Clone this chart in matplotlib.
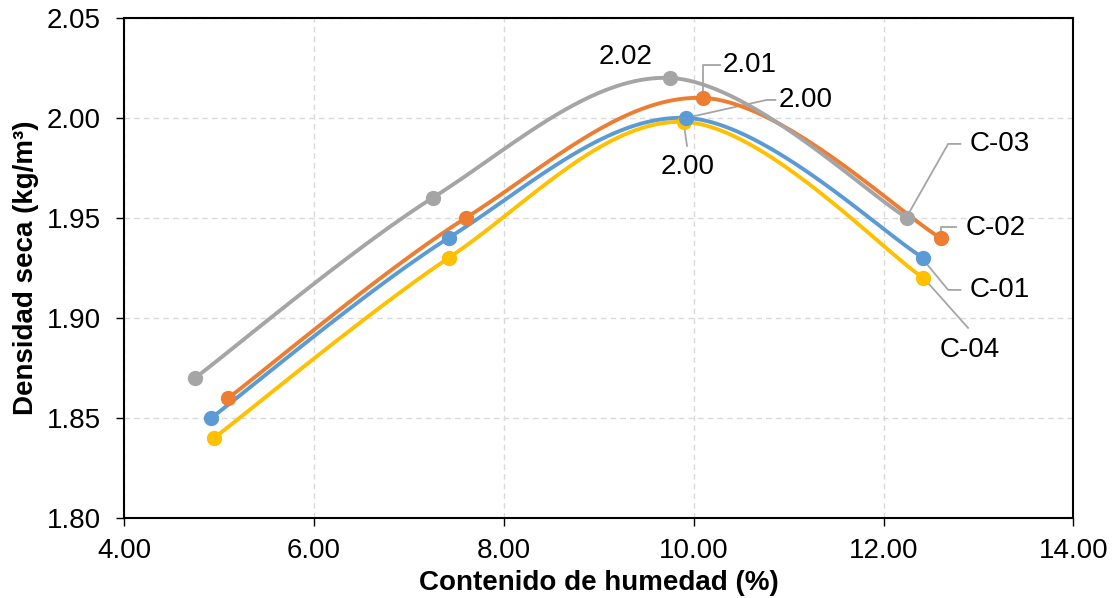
import numpy as np
import matplotlib
matplotlib.use('Agg')
import matplotlib.pyplot as plt

plt.rcParams['font.family'] = ['Liberation Sans', 'DejaVu Sans']

# Data
series_names = ['C-03', 'C-02', 'C-01', 'C-04']
humedad_c03 = [4.75, 7.25, 9.75, 12.25]
densidad_c03 = [1.87, 1.96, 2.02, 1.95]
humedad_c02 = [5.10, 7.60, 10.10, 12.60]
densidad_c02 = [1.86, 1.95, 2.01, 1.94]
humedad_c01 = [4.92, 7.42, 9.92, 12.42]
densidad_c01 = [1.85, 1.94, 2.00, 1.93]
humedad_c04 = [4.95, 7.42, 9.90, 12.42]
densidad_c04 = [1.84, 1.93, 1.998, 1.92]

colors = {'C-01': '#5B9BD5', 'C-02': '#ED7D31', 'C-03': '#A5A5A5', 'C-04': '#FFC000'}


def smooth(x, y, n=40):
    # Excel-like smoothed line: cubic Bezier through the points
    p = np.column_stack([x, y]).astype(float)
    ext = np.vstack([p[0], p, p[-1]])
    t = np.linspace(0, 1, n)[:, None]
    out = []
    for i in range(len(p) - 1):
        p0, p1 = p[i], p[i + 1]
        c1 = p0 + (ext[i + 2] - ext[i]) / 6
        c2 = p1 - (ext[i + 3] - ext[i + 1]) / 6
        seg = ((1 - t) ** 3) * p0 + 3 * ((1 - t) ** 2) * t * c1 + 3 * (1 - t) * t ** 2 * c2 + t ** 3 * p1
        out.append(seg)
    out = np.vstack(out)
    return out[:, 0], out[:, 1]


fig, ax = plt.subplots(figsize=(11.17, 5.98), dpi=100)
fig.subplots_adjust(left=0.111, right=0.961, top=0.970, bottom=0.134)

data = {
    'C-03': (humedad_c03, densidad_c03),
    'C-02': (humedad_c02, densidad_c02),
    'C-01': (humedad_c01, densidad_c01),
    'C-04': (humedad_c04, densidad_c04),
}
for name in ['C-04', 'C-01', 'C-02', 'C-03']:
    x, y = data[name]
    sx, sy = smooth(x, y)
    ax.plot(sx, sy, color=colors[name], lw=2.8, zorder=3, solid_capstyle='round')
    ax.plot(x, y, 'o', color=colors[name], ms=10, zorder=4)

ax.set_xlim(4, 14)
ax.set_ylim(1.80, 2.05)
ax.set_xticks(np.arange(4, 14.01, 2))
ax.set_yticks(np.arange(1.80, 2.051, 0.05))
ax.set_xticklabels([f'{v:.2f}' for v in np.arange(4, 14.01, 2)])
ax.set_yticklabels([f'{v:.2f}' for v in np.arange(1.80, 2.051, 0.05)])
ax.tick_params(labelsize=20, length=5.5, width=1, colors='black', direction='out')
ax.tick_params(axis='x', pad=9)
ax.tick_params(axis='y', pad=11)
ax.grid(True, color='#D9D9D9', ls=(0, (4, 3)), lw=1)
ax.set_axisbelow(True)
for s in ax.spines.values():
    s.set_linewidth(1.5)
    s.set_color('black')

ax.set_xlabel('Contenido de humedad (%)', fontsize=20, fontweight='bold', va='center')
ax.set_ylabel('Densidad seca (kg/m³)', fontsize=20, fontweight='bold', va='center')
ax.xaxis.set_label_coords(0.5, -0.13)
ax.yaxis.set_label_coords(-0.103, 0.5)

lead = dict(color='#A5A5A5', lw=1.3)
fs = 20

# value labels at the peak
ax.text(9.28, 2.0305, '2.02', fontsize=fs, ha='center', va='center')
ax.plot([10.10, 10.10, 10.28], [2.013, 2.0265, 2.0265], **lead, zorder=2)
ax.text(10.31, 2.0265, '2.01', fontsize=fs, ha='left', va='center')
ax.plot([9.92, 10.77, 10.86], [2.0, 2.009, 2.009], **lead, zorder=2)
ax.text(10.89, 2.009, '2.00', fontsize=fs, ha='left', va='center')
ax.plot([9.90, 9.93], [1.996, 1.986], **lead, zorder=2)
ax.text(9.94, 1.9755, '2.00', fontsize=fs, ha='center', va='center')

# series name labels
ax.plot([12.25, 12.68, 12.81], [1.951, 1.987, 1.987], **lead, zorder=2)
ax.text(12.91, 1.987, 'C-03', fontsize=fs, ha='left', va='center')
ax.plot([12.60, 12.60, 12.76], [1.942, 1.9455, 1.9455], **lead, zorder=2)
ax.text(12.86, 1.945, 'C-02', fontsize=fs, ha='left', va='center')
ax.plot([12.42, 12.68, 12.81], [1.929, 1.914, 1.914], **lead, zorder=2)
ax.text(12.91, 1.914, 'C-01', fontsize=fs, ha='left', va='center')
ax.plot([12.44, 12.89], [1.919, 1.895], **lead, zorder=2)
ax.text(12.91, 1.884, 'C-04', fontsize=fs, ha='center', va='center')

fig.savefig('out.png', dpi=100)
